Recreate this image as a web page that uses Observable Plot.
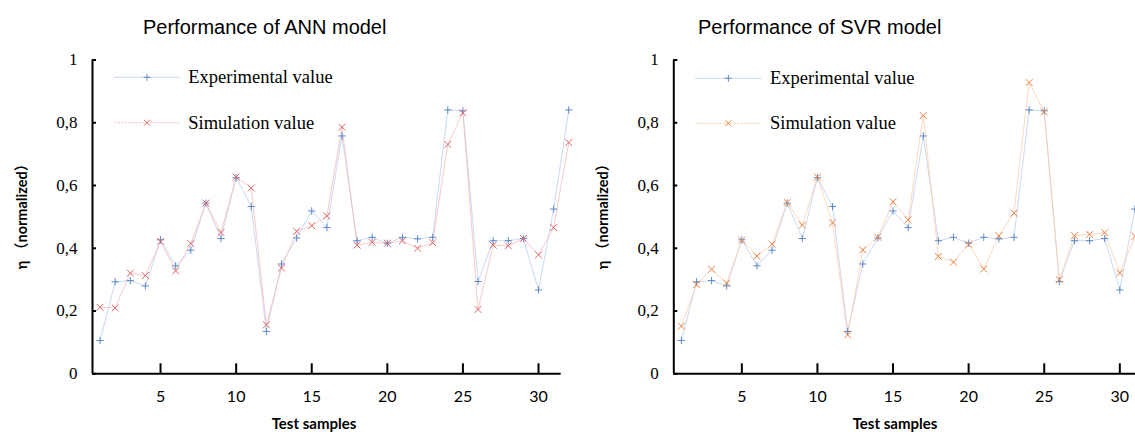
<!DOCTYPE html>
<html><head><meta charset="utf-8">
<script src="https://cdn.jsdelivr.net/npm/d3@7"></script>
<script src="https://cdn.jsdelivr.net/npm/@observablehq/plot@0.6"></script>
<style>
html,body{margin:0;padding:0;background:#fff;overflow:hidden;}
#wrap{position:relative;width:1135px;height:434px;overflow:hidden;background:#fff;}
.panel{position:absolute;top:0;}
#overlay{position:absolute;left:0;top:0;pointer-events:none;}
</style></head>
<body>
<div id="wrap"></div>
<script>
// ---- data ----
const samples = [1,2,3,4,5,6,7,8,9,10,11,12,13,14,15,16,17,18,19,20,21,22,23,24,25,26,27,28,29,30,31,32];
const experimental = [0.106,0.293,0.297,0.280,0.427,0.344,0.394,0.544,0.431,0.625,0.533,0.135,0.350,0.433,0.519,0.466,0.758,0.424,0.435,0.416,0.435,0.430,0.435,0.841,0.838,0.294,0.424,0.424,0.431,0.267,0.525,0.841];
const annSimulation = [0.212,0.210,0.321,0.313,0.422,0.328,0.415,0.544,0.450,0.627,0.592,0.156,0.337,0.454,0.472,0.503,0.786,0.410,0.419,0.416,0.424,0.400,0.418,0.731,0.832,0.205,0.410,0.408,0.431,0.379,0.466,0.737];
const svrSimulation = [0.152,0.284,0.333,0.289,0.426,0.375,0.413,0.546,0.474,0.627,0.481,0.124,0.395,0.435,0.548,0.491,0.823,0.374,0.356,0.413,0.334,0.440,0.512,0.928,0.835,0.300,0.440,0.444,0.450,0.321,0.438];
const xTicks = [5,10,15,20,25,30];
const xTickLabels = ["5","10","15","20","25","30"];
const yTicks = [0,0.2,0.4,0.6,0.8,1];
const yTickLabels = ["0","0,2","0,4","0,6","0,8","1"];
const titles = ["Performance of ANN model","Performance of SVR model"];
const seriesNames = ["Experimental value","Simulation value"];
const xLabel = "Test samples";
const yLabel = "η （normalized）";

// ---- styles ----
const expMarker = "#4f7fc6", expLine = "#bccfec";
const annMarker = "#e06464", annLine = "#f4b8b8";
const svrMarker = "#ee7f3c", svrLine = "#f9cbab";
const serif = "'Liberation Serif','Times New Roman',serif";
const sans = "Lato,'Noto Sans CJK SC',sans-serif";
const xDomain = [0.5, 31.5];

function panel(sim, simMarker, simLine, width, marginLeft, marginRight) {
  const expData = samples.map((s, i) => ({x: s, y: experimental[i]}));
  const simData = sim.map((v, i) => ({x: samples[i], y: v}));
  return Plot.plot({
    width, height: 434,
    marginTop: 59.5, marginBottom: 60.7, marginLeft, marginRight,
    x: {domain: xDomain, axis: null},
    y: {domain: [0, 1], axis: null},
    style: {background: "transparent", overflow: "visible"},
    marks: [
      Plot.line(expData, {x: "x", y: "y", stroke: expLine, strokeWidth: 0.8}),
      Plot.line(simData, {x: "x", y: "y", stroke: simLine, strokeWidth: 0.8, strokeDasharray: "2.5,1"}),
      Plot.dot(expData, {x: "x", y: "y", symbol: "plus", r: 2.5, stroke: expMarker, strokeWidth: 0.9}),
      Plot.dot(simData, {x: "x", y: "y", symbol: "times", r: 3.2, stroke: simMarker, strokeWidth: 1}),
      Plot.ruleX([xDomain[0]], {stroke: "black", strokeWidth: 2}),
      Plot.ruleY([0], {stroke: "black", strokeWidth: 2}),
      Plot.axisX(xTicks, {tickSize: -10, fill: "none", stroke: "black", strokeWidth: 2, label: null}),
      Plot.axisX(xTicks, {tickSize: 0, tickPadding: 17, fontFamily: sans, fontSize: 16, fill: "#000", label: null,
        tickFormat: d => xTickLabels[xTicks.indexOf(d)]}),
      Plot.axisY(yTicks, {tickSize: -4, fill: "none", stroke: "black", strokeWidth: 2, label: null}),
      Plot.axisY(yTicks, {tickSize: 0, tickPadding: 15, fontFamily: serif, fontSize: 17, fill: "#000", label: null,
        tickFormat: d => yTickLabels[yTicks.indexOf(d)]})
    ]
  });
}

const wrap = document.getElementById("wrap");
const left = panel(annSimulation, annMarker, annLine, 580, 92, 19.3);
left.classList.add("panel"); left.style.left = "0px";
wrap.appendChild(left);
const right = panel(svrSimulation, svrMarker, svrLine, 570, 93.3, 8);
right.classList.add("panel"); right.style.left = "580px";
wrap.appendChild(right);

// ---- overlay: titles, axis titles, legends ----
const ns = "http://www.w3.org/2000/svg";
const ov = document.createElementNS(ns, "svg");
ov.setAttribute("id", "overlay");
ov.setAttribute("width", 1135); ov.setAttribute("height", 434);
wrap.appendChild(ov);
function el(tag, attrs, text) {
  const e = document.createElementNS(ns, tag);
  for (const k in attrs) e.setAttribute(k, attrs[k]);
  if (text != null) e.textContent = text;
  ov.appendChild(e);
  return e;
}
const layouts = [
  {titleX: 143, xLabelX: 314, yLabelX: 27, legLine: [114, 180], legText: 188.3, legY: [77.3, 122.7], simMarker: annMarker, simLine: annLine},
  {titleX: 698, xLabelX: 895, yLabelX: 608, legLine: [695, 761.7], legText: 770, legY: [78.3, 123.3], simMarker: svrMarker, simLine: svrLine}
];
layouts.forEach((L, k) => {
  el("text", {x: L.titleX, y: 34, "font-family": "'Liberation Sans',Arial,sans-serif", "font-size": 20, fill: "#000"}, titles[k]);
  el("text", {x: L.xLabelX, y: 429, "text-anchor": "middle", "font-family": sans, "font-weight": "bold", "font-size": 15, fill: "#000"}, xLabel);
  el("text", {x: 0, y: 0, transform: `translate(${L.yLabelX},213) rotate(-90)`, "text-anchor": "middle", "font-family": sans, "font-weight": "bold", "font-size": 14.5, fill: "#000"}, yLabel);
  const cols = [[expMarker, expLine, "plus"], [L.simMarker, L.simLine, "times"]];
  cols.forEach(([m, l, s], j) => {
    const y = L.legY[j];
    const line = el("line", {x1: L.legLine[0], x2: L.legLine[1], y1: y, y2: y, stroke: l, "stroke-width": 0.8});
    if (j === 1) line.setAttribute("stroke-dasharray", "2.5,1");
    const cx = (L.legLine[0] + L.legLine[1]) / 2;
    if (s === "plus") {
      el("path", {d: `M${cx-3.5},${y}H${cx+3.5}M${cx},${y-3.5}V${y+3.5}`, stroke: m, "stroke-width": 0.9, fill: "none"});
    } else {
      el("path", {d: `M${cx-3},${y-3}L${cx+3},${y+3}M${cx-3},${y+3}L${cx+3},${y-3}`, stroke: m, "stroke-width": 1, fill: "none"});
    }
    el("text", {x: L.legText, y: y + 6, "font-family": serif, "font-size": 18.5, fill: "#000"}, seriesNames[j]);
  });
});
</script>
</body></html>
